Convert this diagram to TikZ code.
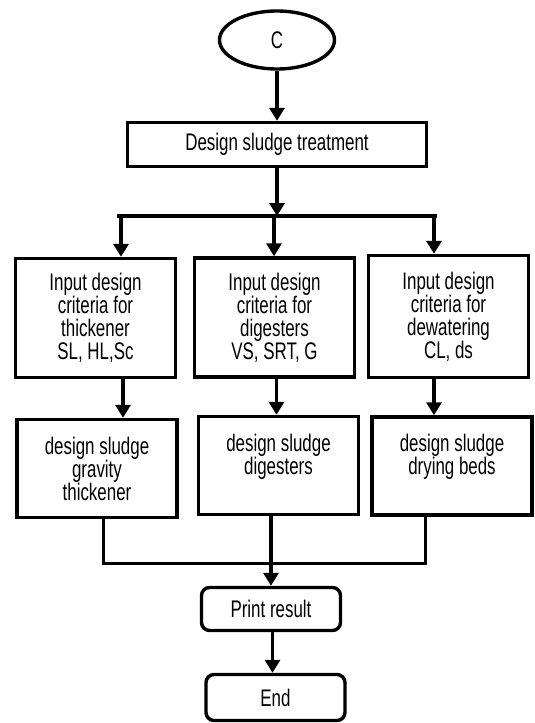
\documentclass[tikz,border=0pt]{standalone}
\usepackage{fontspec}
\newfontfamily\flowfont[FakeStretch=0.705]{Liberation Sans}
\usetikzlibrary{shapes.geometric,arrows.meta}

\tikzset{
  stepbox/.style={draw,line width=3.4pt,minimum width=160pt,minimum height=119pt,align=center,inner sep=2pt},
  taskbox/.style={draw,line width=3.4pt,minimum width=160pt,minimum height=98pt,align=center,inner sep=2pt},
  endbox/.style={draw,line width=3.4pt,rounded corners=8pt,minimum width=139pt,minimum height=43pt},
  arr/.style={line width=3.4pt,-{Triangle[length=13pt,width=15pt]}},
  flow/.style={line width=3pt}
}

\begin{document}
\begin{tikzpicture}[x=1pt,y=-1pt,font={\flowfont\fontsize{24}{23}\selectfont}]
\useasboundingbox (0,0) rectangle (535,723);

%% Start and first step
\node[draw,ellipse,line width=3.4pt,minimum width=115pt,minimum height=58pt] (start) at (277,40) {C};
\node[draw,line width=3.4pt,minimum width=299pt,minimum height=44pt] (design) at (277,144.5) {Design sludge treatment};

%% Split line
\coordinate (split) at (277,216);
\coordinate (tapA) at (117,216);
\coordinate (tapB) at (274,216);
\coordinate (tapC) at (437,216);

%% Input criteria
\node[stepbox] (inA) at (95.5,318) {Input design\\criteria for\\thickener\\SL, HL,Sc};
\node[stepbox] (inB) at (274.5,317.5) {Input design\\criteria for\\digesters\\VS, SRT, G};
\node[stepbox,minimum height=122pt] (inC) at (448.5,316.5) {Input design\\criteria for\\dewatering\\CL, ds};

%% Design units
\node[taskbox] (dsgA) at (97,468.5) {design sludge\\gravity\\thickener};
\node[taskbox] (dsgB) at (278.5,465.5) {design sludge\\digesters\\\mbox{}};
\node[taskbox] (dsgC) at (452,466) {design sludge\\drying beds\\\mbox{}};

%% Output
\coordinate (join) at (271,563);
\node[endbox] (result) at (271,609) {Print result};
\node[endbox,minimum height=46pt] (end) at (275.5,697.5) {End};

%% Connectors
\draw[arr] (start) -- (design);
\draw[arr] (design) -- (split);
\draw[line width=3.4pt] (tapA) -- (tapC);
\draw[arr] ([xshift=4pt]tapA) -- ([xshift=4pt]tapA |- inA.north);
\draw[arr] (tapB) -- (tapB |- inB.north);
\draw[arr] ([xshift=-3pt]tapC) -- ([xshift=-3pt]tapC |- inC.north);

\draw[arr] ([xshift=27.5pt]inA.south) -- ([xshift=26pt]dsgA.north);
\draw[arr] ([xshift=2pt]inB.south) -- ([xshift=-2pt]dsgB.north);
\draw[arr] ([xshift=-14.5pt]inC.south) -- ([xshift=-18pt]dsgC.north);

\draw[flow] ([xshift=6pt]dsgA.south) |- (join) -| ([xshift=-27pt]dsgC.south);
\draw[arr] ([xshift=-7.5pt]dsgB.south) -- (result.north);
\draw[arr] ([xshift=1.5pt]result.south) -- ([xshift=1.5pt]result.south |- end.north);

\end{tikzpicture}
\end{document}
